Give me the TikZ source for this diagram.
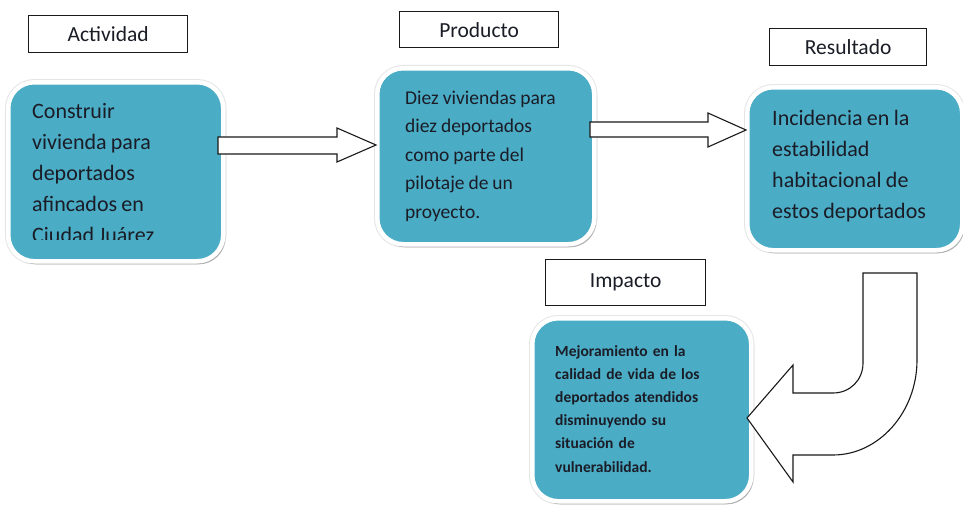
\documentclass[tikz,border=0pt]{standalone}
\usepackage{fontspec}
\setmainfont{Carlito}
\newfontfamily\smallfont{Carlito}
\usetikzlibrary{shadows}
\definecolor{boxblue}{HTML}{4BACC6}
\definecolor{txt}{HTML}{1A1C26}
\newcommand\tightsp[1]{\spaceskip=#1em\relax}
\begin{document}
\begin{tikzpicture}[x=1pt,y=-1pt,
  bluebox/.style={rectangle, rounded corners=26pt, fill=boxblue, draw=white,
    line width=4.5pt, inner sep=0pt, anchor=north west,
    preaction={draw=black!10, line width=6.5pt},
    drop shadow={shadow xshift=2pt, shadow yshift=-3pt, opacity=0.3, fill=black!80}},
  labelbox/.style={rectangle, draw=black!90, line width=1.3pt, fill=white,
    inner sep=0pt, anchor=north west, text=txt, font=\fontsize{21.5}{24}\selectfont},
  btext/.style={anchor=base west, inner sep=0pt, text width=260pt, align=left, text=txt},
  blockarrow/.style={draw=black!90, line width=1.1pt, fill=white, line join=miter}
]
\useasboundingbox (0,0) rectangle (963,511);

% label boxes
\node[labelbox, minimum width=159pt, minimum height=37pt] (lA) at (28,15) {Actividad};
\node[labelbox, minimum width=159pt, minimum height=36pt] (lP) at (399,11) {Producto};
\node[labelbox, minimum width=157pt, minimum height=37pt] (lR) at (769,28) {Resultado};
\node[labelbox, minimum width=160pt, minimum height=46pt] (lI) at (545,259) {Impacto};

% blue boxes
\node[bluebox, minimum width=215pt, minimum height=179pt] (b1) at (6,80) {};
\node[bluebox, minimum width=217pt, minimum height=176pt] (b2) at (375,66) {};
\node[bluebox, minimum width=215pt, minimum height=163pt] (b3) at (745,85) {};
\node[bluebox, minimum width=219pt, minimum height=183pt] (b4) at (530,316) {};

% texts
\begin{scope}
\clip (0,0) rectangle (300,239.5);
\node[btext, font={\fontsize{22}{31}\selectfont}] (t1) at (32,118)
  {\tightsp{0.19}Construir\\vivienda para\\deportados\\afincados en\\Ciudad Juárez};
\end{scope}
\node[btext, font={\fontsize{19.5}{28.5}\selectfont}] (t2) at (405,104)
  {\tightsp{0.2}Diez viviendas para\\diez deportados\\como parte del\\pilotaje de un\\proyecto.};
\node[btext, font={\fontsize{22}{31}\selectfont}] (t3) at (772,125)
  {\tightsp{0.2}Incidencia en la\\estabilidad\\habitacional de\\estos deportados};
\node[btext, font={\smallfont\bfseries\fontsize{15.5}{23.2}\selectfont}] (t4) at (555,356)
  {Mejoramiento en la\\calidad de vida de los\\deportados atendidos\\disminuyendo su\\situación de\\vulnerabilidad.};

% block arrows
\draw[blockarrow] (218,137) -- (337,137) -- (337,128) -- (376,145) -- (337,162)
  -- (337,154) -- (218,154) -- cycle;
\draw[blockarrow] (590,122) -- (708,122) -- (708,113) -- (746,130) -- (708,147)
  -- (708,137) -- (590,137) -- cycle;
% curved arrow
\draw[blockarrow] (863,273) -- (863,363) .. controls (863,380) and (850,393) .. (833,393)
  -- (793,393) -- (793,365) -- (747,418) -- (793,482) -- (793,455) -- (833,455)
  .. controls (879,455) and (917,412) .. (917,360) -- (917,273) -- cycle;
\end{tikzpicture}
\end{document}
